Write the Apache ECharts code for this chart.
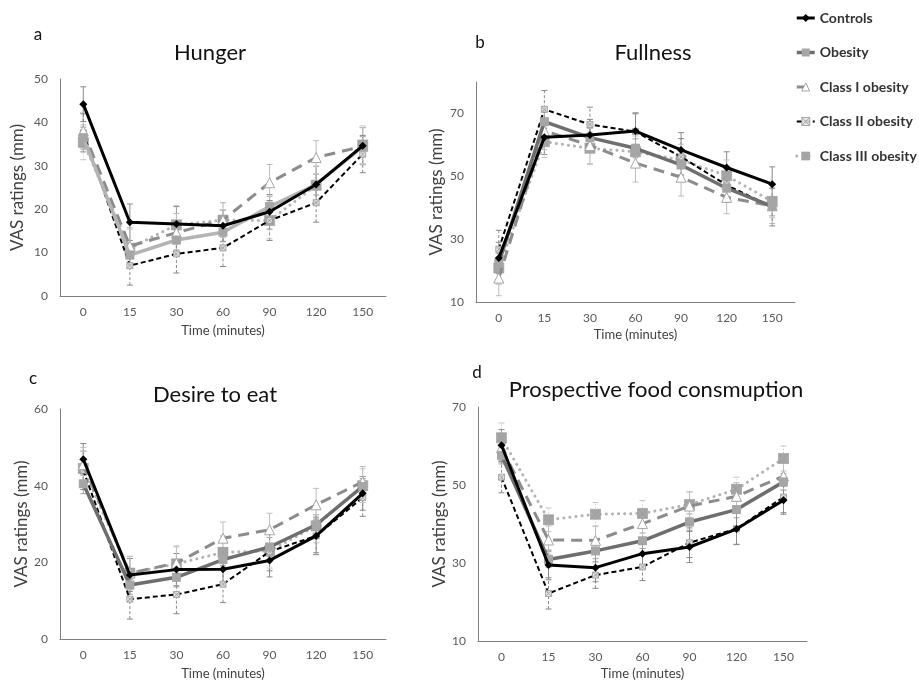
<!DOCTYPE html>
<html>
<head>
<meta charset="utf-8">
<script src="https://cdn.jsdelivr.net/npm/echarts@6/dist/echarts.min.js"></script>
<style>html,body{margin:0;padding:0;background:#fff;}#c{width:919px;height:681px;}</style>
</head>
<body>
<div id="c"></div>
<script>
const timeLabels = ['0', '15', '30', '60', '90', '120', '150'];
const seriesNames = ['Controls', 'Obesity', 'Class I obesity', 'Class II obesity', 'Class III obesity'];

// Hunger (a)
const hungerControls = [44.2, 17.0, 16.6, 16.2, 19.4, 25.7, 34.6];
const hungerObesity  = [36.5, 9.4, 12.9, 14.7, 20.6, 25.7, 34.4];
const hungerClass1   = [38.0, 11.5, 14.6, 17.5, 26.1, 31.9, 34.5];
const hungerClass2   = [37.6, 7.0, 9.7, 11.1, 17.4, 21.5, 32.7];
const hungerClass3   = [35.4, 11.0, 16.4, 17.5, 17.4, 25.5, 34.8];
const hungerErrControls = [4.0, 4.2, 4.0, 3.6, 4.0, 4.2, 4.2];
const hungerErrObesity  = [2.4, 2.2, 2.3, 2.2, 2.4, 2.4, 2.3];
const hungerErrClass1   = [4.2, 4.3, 4.4, 4.0, 4.2, 3.9, 4.3];
const hungerErrClass2   = [4.4, 4.5, 4.4, 4.3, 4.6, 4.5, 4.3];
const hungerErrClass3   = [4.0, 4.4, 4.5, 4.0, 4.2, 4.3, 4.4];

// Fullness (b)
const fullControls = [24.0, 62.4, 63.1, 64.4, 58.4, 52.8, 47.5];
const fullObesity  = [22.4, 67.4, 62.3, 58.9, 53.6, 46.2, 40.4];
const fullClass1   = [17.6, 64.5, 59.8, 54.2, 49.7, 43.3, 40.6];
const fullClass2   = [26.8, 71.3, 66.5, 64.2, 56.2, 47.2, 40.2];
const fullClass3   = [20.8, 61.0, 58.9, 57.8, 55.2, 50.2, 42.0];
const fullErrControls = [5.0, 5.5, 5.0, 5.5, 5.5, 5.0, 5.5];
const fullErrObesity  = [3.0, 3.2, 3.0, 3.0, 3.2, 3.0, 3.0];
const fullErrClass1   = [5.6, 6.0, 5.8, 6.0, 6.0, 5.2, 5.6];
const fullErrClass2   = [6.0, 6.0, 5.5, 6.0, 5.8, 5.5, 6.0];
const fullErrClass3   = [5.2, 5.0, 5.2, 5.0, 5.0, 5.0, 5.2];

// Desire to eat (c)
const desireControls = [46.9, 16.7, 18.1, 18.2, 20.5, 26.9, 38.0];
const desireObesity  = [40.5, 14.1, 16.1, 20.7, 24.0, 29.8, 39.8];
const desireClass1   = [45.5, 17.2, 19.8, 26.3, 28.5, 35.0, 41.0];
const desireClass2   = [44.0, 10.4, 11.6, 14.3, 22.8, 26.9, 36.9];
const desireClass3   = [44.5, 17.2, 19.6, 22.6, 23.0, 29.5, 40.0];
const desireErrControls = [4.1, 4.3, 4.2, 4.4, 4.3, 4.4, 4.4];
const desireErrObesity  = [2.6, 2.4, 2.5, 2.5, 2.5, 2.6, 2.6];
const desireErrClass1   = [4.5, 4.4, 4.5, 4.2, 4.3, 4.3, 4.0];
const desireErrClass2   = [5.0, 5.2, 5.0, 4.8, 5.0, 4.9, 4.9];
const desireErrClass3   = [4.4, 4.3, 4.4, 4.3, 4.5, 4.4, 4.4];

// Prospective food consumption (d)
const prospControls = [60.2, 29.5, 28.8, 32.4, 34.1, 38.7, 46.1];
const prospObesity  = [57.6, 30.9, 33.1, 35.7, 40.5, 43.7, 50.8];
const prospClass1   = [59.5, 35.9, 35.8, 40.1, 44.6, 47.1, 52.3];
const prospClass2   = [52.0, 22.2, 26.9, 29.0, 35.2, 38.8, 46.9];
const prospClass3   = [62.1, 41.1, 42.5, 42.7, 45.0, 48.9, 56.8];
const prospErrControls = [4.0, 3.8, 3.6, 3.8, 4.0, 4.0, 3.6];
const prospErrObesity  = [2.2, 2.0, 2.0, 2.0, 2.1, 2.1, 2.1];
const prospErrClass1   = [3.8, 3.6, 3.6, 3.6, 3.6, 3.5, 3.6];
const prospErrClass2   = [4.0, 4.0, 3.4, 3.5, 3.8, 4.0, 4.0];
const prospErrClass3   = [3.8, 3.0, 3.0, 3.3, 3.3, 3.1, 3.2];

const FONT = 'Lato, "Open Sans", sans-serif';

const panels = [
  { grid: { left: 60, top: 79, width: 326, height: 217 }, min: 0, max: 50, interval: 10, yGap: 34, xGap: 28,
    title: 'Hunger', tx: 210, ty: 53, letter: 'a', lx: 38, ly: 35, obesityColor: '#b4b4b4',
    values: [hungerControls, hungerObesity, hungerClass1, hungerClass2, hungerClass3],
    errs: [hungerErrControls, hungerErrObesity, hungerErrClass1, hungerErrClass2, hungerErrClass3] },
  { grid: { left: 476, top: 82, width: 319, height: 220 }, min: 10, max: 80, interval: 20, yGap: 31, xGap: 26,
    title: 'Fullness', tx: 653, ty: 53, letter: 'b', lx: 480, ly: 43, obesityColor: '#6e6e6e',
    values: [fullControls, fullObesity, fullClass1, fullClass2, fullClass3],
    errs: [fullErrControls, fullErrObesity, fullErrClass1, fullErrClass2, fullErrClass3] },
  { grid: { left: 60, top: 409, width: 326, height: 230 }, min: 0, max: 60, interval: 20, yGap: 27, xGap: 28,
    title: 'Desire to eat', tx: 215, ty: 395, letter: 'c', lx: 33, ly: 379, obesityColor: '#6e6e6e',
    values: [desireControls, desireObesity, desireClass1, desireClass2, desireClass3],
    errs: [desireErrControls, desireErrObesity, desireErrClass1, desireErrClass2, desireErrClass3] },
  { grid: { left: 478, top: 407, width: 329, height: 234 }, min: 10, max: 70, interval: 20, yGap: 27, xGap: 26,
    title: 'Prospective food consmuption', tx: 656, ty: 390, letter: 'd', lx: 477, ly: 373, obesityColor: '#6e6e6e',
    values: [prospControls, prospObesity, prospClass1, prospClass2, prospClass3],
    errs: [prospErrControls, prospErrObesity, prospErrClass1, prospErrClass2, prospErrClass3] }
];

const xSquare = 'path://M0,0L10,0L10,10L0,10Z M0,0L10,10 M10,0L0,10';

function styleFor(k, obesityColor) {
  switch (k) {
    case 0: return { lineStyle: { color: '#000', width: 3 }, symbol: 'diamond', symbolSize: 8,
      itemStyle: { color: '#000' }, err: { color: '#8a8a8a', dash: null } };
    case 1: return { lineStyle: { color: obesityColor, width: 3.5 }, symbol: 'rect', symbolSize: 9,
      itemStyle: { color: '#a6a6a6' }, err: { color: '#a0a0a0', dash: null } };
    case 2: return { lineStyle: { color: '#8c8c8c', width: 3, type: [11, 7] }, symbol: 'triangle', symbolSize: 10,
      itemStyle: { color: '#fff', borderColor: '#a6a6a6', borderWidth: 1 }, err: { color: '#bdbdbd', dash: null } };
    case 3: return { lineStyle: { color: '#000', width: 2, type: [5, 3] }, symbol: xSquare, symbolSize: 6,
      itemStyle: { color: 'rgba(225,225,225,0.9)', borderColor: '#999', borderWidth: 0.8 }, err: { color: '#8a8a8a', dash: [3, 2] } };
    default: return { lineStyle: { color: '#b3b3b3', width: 3, type: [0.1, 6], cap: 'round' }, symbol: xSquare, symbolSize: 10,
      itemStyle: { color: '#a6a6a6', borderColor: '#999', borderWidth: 0.6 }, err: { color: '#c4c4c4', dash: [1, 2] } };
  }
}

const grids = [], xAxes = [], yAxes = [], series = [], graphics = [];
panels.forEach((p, gi) => {
  grids.push(Object.assign({ outerBoundsMode: 'none', containLabel: false }, p.grid));
  xAxes.push({
    type: 'category', gridIndex: gi, data: timeLabels, boundaryGap: true,
    name: 'Time (minutes)', nameLocation: 'middle', nameGap: p.xGap,
    nameTextStyle: { fontFamily: FONT, fontSize: 13, color: '#404040' },
    axisLine: { lineStyle: { color: '#7f7f7f', width: 1 } },
    axisTick: { show: false },
    axisLabel: { fontFamily: FONT, fontSize: 12, color: '#595959', margin: 10 },
    splitLine: { show: false }
  });
  yAxes.push({
    type: 'value', gridIndex: gi, min: p.min, max: p.max, interval: p.interval,
    name: 'VAS ratings (mm)', nameLocation: 'middle', nameGap: p.yGap, nameRotate: 90,
    nameTextStyle: { fontFamily: FONT, fontSize: 17, color: '#404040' },
    axisLine: { show: true, lineStyle: { color: '#7f7f7f', width: 1 } },
    axisTick: { show: false },
    axisLabel: { fontFamily: FONT, fontSize: 12, color: '#595959', margin: 12, showMaxLabel: (p.max - p.min) % p.interval === 0 },
    splitLine: { show: false }
  });
  p.values.forEach((vals, k) => {
    const st = styleFor(k, p.obesityColor);
    const errs = p.errs[k];
    series.push({
      type: 'custom', xAxisIndex: gi, yAxisIndex: gi, z: 1, silent: true,
      data: vals.map((v, i) => [i, v - errs[i], v + errs[i]]),
      renderItem: (params, api) => {
        const lo = api.coord([api.value(0), api.value(1)]);
        const hi = api.coord([api.value(0), api.value(2)]);
        const w = 3;
        const style = { stroke: st.err.color, lineWidth: 1, lineDash: st.err.dash || null };
        return { type: 'group', children: [
          { type: 'line', shape: { x1: lo[0], y1: lo[1], x2: hi[0], y2: hi[1] }, style: style },
          { type: 'line', shape: { x1: lo[0] - w, y1: lo[1], x2: lo[0] + w, y2: lo[1] }, style: { stroke: st.err.color, lineWidth: 1 } },
          { type: 'line', shape: { x1: hi[0] - w, y1: hi[1], x2: hi[0] + w, y2: hi[1] }, style: { stroke: st.err.color, lineWidth: 1 } }
        ] };
      }
    });
    series.push({
      type: 'line', name: seriesNames[k], xAxisIndex: gi, yAxisIndex: gi, z: 3 + (4 - k) * 0.1,
      data: vals, symbol: st.symbol, symbolSize: st.symbolSize, showAllSymbol: true,
      lineStyle: st.lineStyle, itemStyle: st.itemStyle, animation: false
    });
  });
  graphics.push({ type: 'text', x: p.tx, y: p.ty, style: { text: p.title, font: '22px ' + FONT, fill: '#111', textAlign: 'center', textVerticalAlign: 'middle' } });
  graphics.push({ type: 'text', x: p.lx, y: p.ly, style: { text: p.letter, font: '17px ' + FONT, fill: '#111', textAlign: 'center', textVerticalAlign: 'middle' } });
});

const legendData = seriesNames.map((n, k) => {
  const st = styleFor(k, '#6e6e6e');
  return { name: n, lineStyle: st.lineStyle, itemStyle: st.itemStyle };
});

const chart = echarts.init(document.getElementById('c'), null, { renderer: 'canvas' });
chart.setOption({
  animation: false,
  backgroundColor: '#fff',
  legend: {
    data: legendData, orient: 'vertical', left: 790, top: 6, itemGap: 20.5, itemWidth: 18, itemHeight: 10,
    textStyle: { fontFamily: FONT, fontSize: 14, fontWeight: 'bold', color: '#333' }
  },
  grid: grids, xAxis: xAxes, yAxis: yAxes, series: series, graphic: graphics
});
</script>
</body>
</html>
